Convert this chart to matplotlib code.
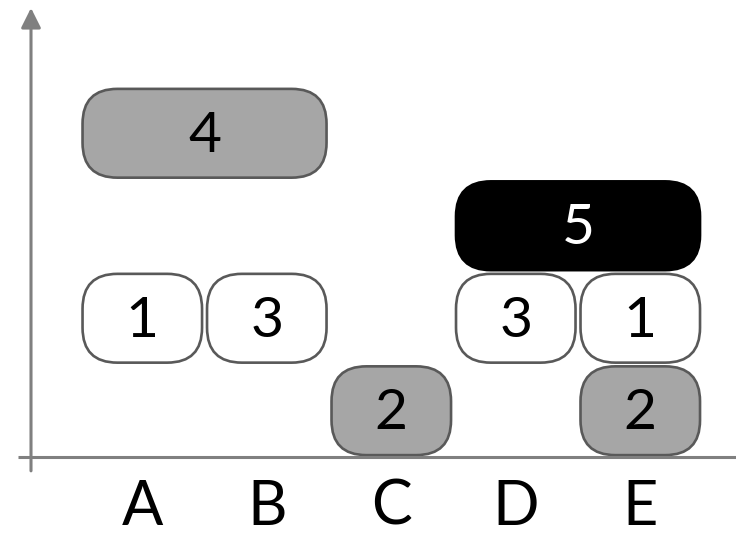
import matplotlib.pyplot as plt
from matplotlib.patches import FancyBboxPatch

# boxes: value, first column, column span, row, fill style
box_values = [4, 1, 3, 2, 5, 3, 1, 2]
box_cols = [0, 0, 1, 2, 3, 3, 4, 4]
box_spans = [2, 1, 1, 1, 2, 1, 1, 1]
box_rows = [3, 1, 1, 0, 2, 1, 1, 0]
box_kinds = ["gray", "white", "white", "gray", "black", "white", "white", "gray"]
categories = ["A", "B", "C", "D", "E"]

fills = {"gray": "#a6a6a6", "white": "#ffffff", "black": "#000000"}
edges = {"gray": "#595959", "white": "#595959", "black": "#000000"}
text_colors = {"gray": "black", "white": "black", "black": "white"}

fig = plt.figure(figsize=(7.36, 5.38), dpi=100)
ax = fig.add_axes([0, 0, 1, 1])
ax.set_xlim(-0.643, 5.269)
ax.set_ylim(-0.876, 4.941)
ax.axis("off")

aspect = 124.5 / 92.5
pad_x = 0.02
pad_y = 0.02
for val, c, s, r, k in zip(box_values, box_cols, box_spans, box_rows, box_kinds):
    x0 = c + pad_x
    w = s - 2 * pad_x
    y0 = r + pad_y
    h = 1 - 2 * pad_y
    box = FancyBboxPatch((x0, y0), w, h,
                         boxstyle="round,pad=0,rounding_size=0.28",
                         mutation_aspect=aspect,
                         facecolor=fills[k], edgecolor=edges[k], linewidth=1.9)
    ax.add_patch(box)
    ax.text(x0 + w / 2, y0 + h / 2 - 0.03, str(val), ha="center", va="center",
            fontsize=41, family="Lato", color=text_colors[k])

# axes lines
axis_color = "#808080"
ax.plot([-0.5, 5.3], [0, 0], color=axis_color, lw=2.2, solid_capstyle="butt")
ax.annotate("", xy=(-0.394, 4.855), xytext=(-0.394, -0.15),
            arrowprops=dict(arrowstyle="-|>,head_length=0.8,head_width=0.4",
                            color=axis_color, lw=2.2, mutation_scale=15,
                            shrinkA=0, shrinkB=0))

for i, lab in enumerate(categories):
    ax.text(i + 0.5, -0.735, lab, ha="center", va="baseline",
            fontsize=44, family="Lato", color="black")

fig.savefig("out.png", dpi=100)
